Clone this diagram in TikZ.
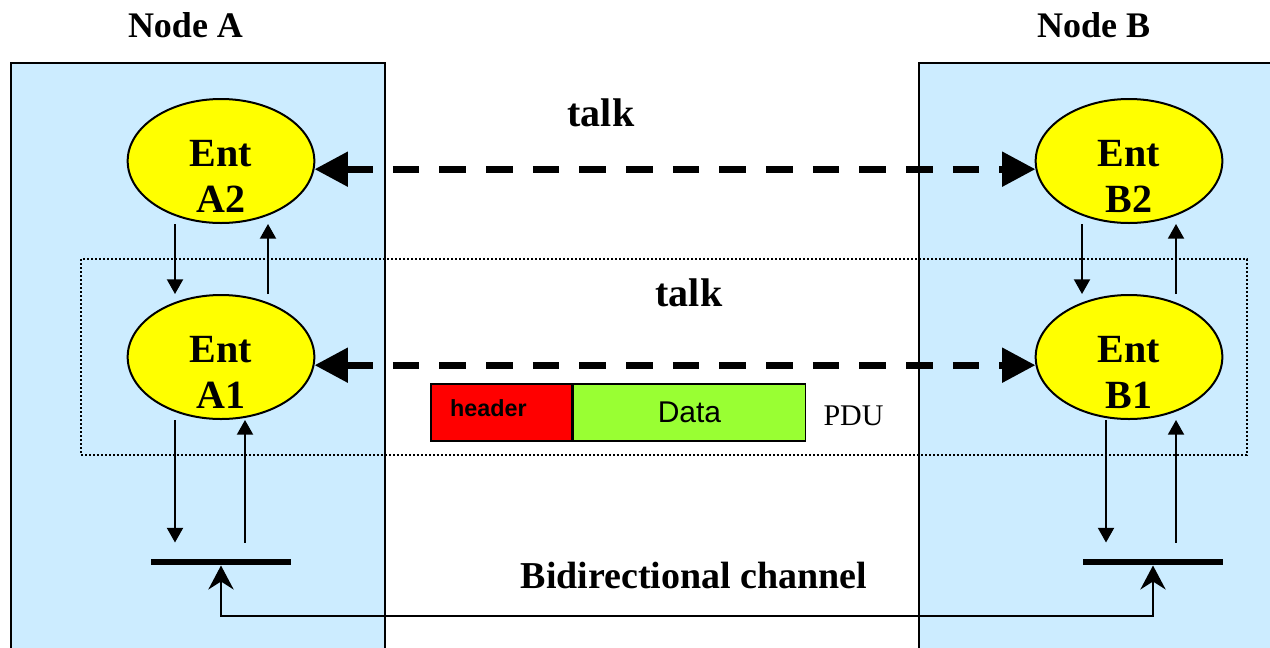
\documentclass[tikz,border=0pt]{standalone}
\usepackage{fontspec}
\setmainfont{Liberation Serif}
\newfontfamily\pdusans{Liberation Sans}
\usetikzlibrary{shapes.geometric,arrows.meta,positioning}

\definecolor{nodeblue}{RGB}{204,236,255}
\definecolor{entyellow}{RGB}{255,255,0}
\definecolor{hdrred}{RGB}{255,0,0}
\definecolor{datagreen}{RGB}{153,255,51}

\tikzset{every picture/.style={line width=0.75pt}}
\tikzset{
  nodebox/.style={fill=nodeblue, draw=black, line width=1.1pt},
  entity/.style={ellipse, draw=black, fill=entyellow, line width=1.5pt, minimum width=140pt, minimum height=93pt, inner sep=0pt},
  enttext/.style={font=\bfseries\fontsize{30}{34.5}\selectfont, align=center, inner sep=0pt},
  title/.style={font=\bfseries\fontsize{27}{32}\selectfont, inner sep=0pt, anchor=base},
  talkarrow/.style={line width=5.25pt, dash pattern=on 20pt off 15pt, {Triangle[length=25pt,width=25pt]}-{Triangle[length=25pt,width=25pt]}},
  smallarrow/.style={line width=1.5pt, -{Triangle[length=11pt,width=12pt]}},
  chanbar/.style={rectangle, fill=black, minimum width=105pt, minimum height=4.5pt, inner sep=0pt},
  chanline/.style={line width=1.5pt, {Stealth[length=18pt,width=19pt,inset=6pt]}-{Stealth[length=18pt,width=19pt,inset=6pt]}},
  pdubox/.style={rectangle, draw=black, line width=1.1pt, minimum height=42.75pt, inner sep=0pt}
}

\begin{document}
\begin{tikzpicture}[x=0.75pt,y=0.75pt,yscale=-1,xscale=1]
\useasboundingbox (0,0) rectangle (1270,647);

%Shape: Rectangle (node A)
\filldraw[nodebox] (11,655) -- (11,63) -- (385,63) -- (385,655);
%Shape: Rectangle (node B)
\filldraw[nodebox] (919,655) -- (919,63) -- (1280,63) -- (1280,655);

%Shape: Dotted Rectangle
\draw[line width=1pt, dash pattern=on 1.5pt off 1.5pt] (81,259) rectangle (1247,455);

% Text Node
\node[title] (labA) at (185.5,37.7) {Node A};
% Text Node
\node[title] (labB) at (1093.5,37.7) {Node B};

%Shape: Ellipse
\node[entity] (A2) at (221,161) {};
\node[enttext] (A2t) at (221,176) {Ent\\A2};
\node[entity] (A1) at (221,357) {};
\node[enttext] (A1t) at (221,372) {Ent\\A1};
\node[entity] (B2) at (1129,161) {};
\node[enttext] (B2t) at (1129,176) {Ent\\B2};
\node[entity] (B1) at (1129,357) {};
\node[enttext] (B1t) at (1129,372) {Ent\\B1};

%Straight Lines (talk)
\draw[talkarrow] (A2.-5.5) -- (B2.185.5);
\draw[talkarrow] (A1.-5.5) -- (B1.185.5);

% Text Node
\node[title, font=\bfseries\fontsize{30}{34}\selectfont] (talkup) at (601,126.7) {talk};
% Text Node
\node[title, font=\bfseries\fontsize{30}{34}\selectfont] (talklow) at (689,306) {talk};

%Straight Lines (between layers)
\draw[smallarrow] ([xshift=-34.5pt]A2.south) -- ([xshift=-34.5pt]A1.north);
\draw[smallarrow] ([xshift=35.25pt]A1.north) -- ([xshift=35.25pt]A2.south);
\draw[smallarrow] ([xshift=-35.25pt]B2.south) -- ([xshift=-35.25pt]B1.north);
\draw[smallarrow] ([xshift=35.25pt]B1.north) -- ([xshift=35.25pt]B2.south);

%Shape: Bars
\node[chanbar] (barA) at (221,562) {};
\node[chanbar] (barB) at (1153,562) {};

%Straight Lines (to the channel)
\draw[smallarrow, shorten >=12pt] ([xshift=-34.5pt]A1.south) -- ([xshift=-34.5pt]barA.north);
\draw[smallarrow, shorten <=12pt] ([xshift=18pt]barA.north) -- ([xshift=18pt]A1.south);
\draw[smallarrow, shorten >=12pt] ([xshift=-17.25pt]B1.south) -- ([xshift=-35.25pt]barB.north);
\draw[smallarrow, shorten <=12pt] ([xshift=17.25pt]barB.north) -- ([xshift=35.25pt]B1.south);

%Straight Lines (channel)
\draw[chanline] (barA.south) -- ++(0,50) -| (barB.south);

% Text Node
\node[title, font=\bfseries\fontsize{28.5}{33}\selectfont] (chan) at (694,588) {Bidirectional channel};

%Shape: PDU
\node[pdubox, fill=hdrred, minimum width=105.75pt, text width=77pt, inner xsep=14pt, align=left, text depth=6pt, font=\pdusans\bfseries\fontsize{17.5}{20}\selectfont] (hdr) at (501.5,412.5) {header};
\node[pdubox, fill=datagreen, minimum width=174pt, font=\pdusans\fontsize{22.5}{26}\selectfont, right=0pt of hdr] (data) {Data};
% Text Node
\node[font=\fontsize{22.5}{26}\selectfont, inner sep=0pt, anchor=base west] (pdu) at (823,425) {PDU};

\end{tikzpicture}
\end{document}
